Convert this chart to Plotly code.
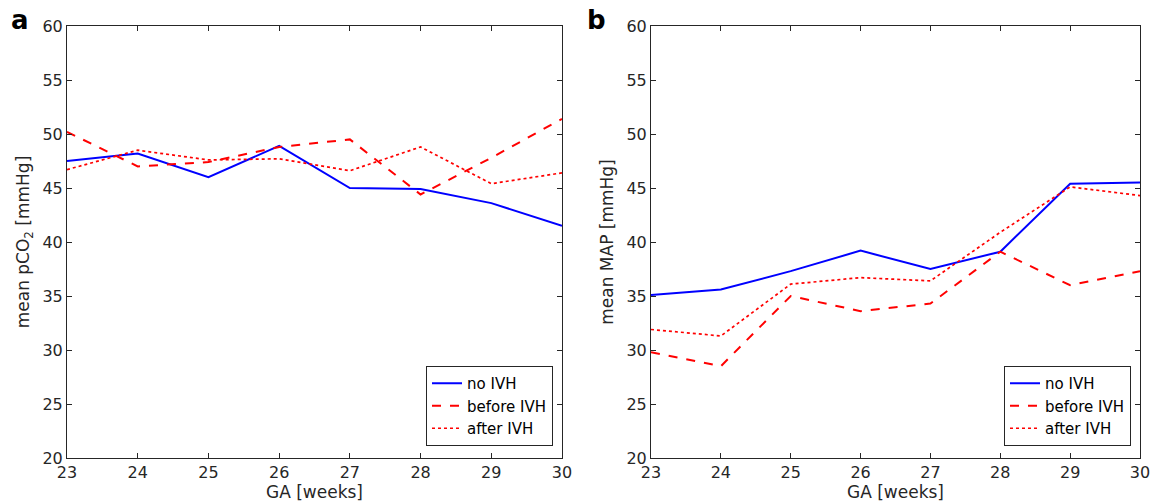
import plotly.graph_objects as go

# Gestational age (weeks)
ga_weeks = [23, 24, 25, 26, 27, 28, 29, 30]

# Panel a: mean pCO2 [mmHg]
pco2_no_ivh = [47.5, 48.2, 46.0, 48.9, 45.0, 44.9, 43.6, 41.5]
pco2_before_ivh = [50.2, 47.0, 47.4, 48.8, 49.5, 44.4, 47.8, 51.4]
pco2_after_ivh = [46.7, 48.5, 47.6, 47.7, 46.6, 48.8, 45.4, 46.4]

# Panel b: mean MAP [mmHg]
map_no_ivh = [35.1, 35.6, 37.3, 39.2, 37.5, 39.1, 45.4, 45.5]
map_before_ivh = [29.8, 28.5, 35.0, 33.6, 34.3, 39.1, 36.0, 37.3]
map_after_ivh = [31.9, 31.3, 36.1, 36.7, 36.4, 40.9, 45.1, 44.3]

series_names = ["no IVH", "before IVH", "after IVH"]
y_ticks = [20, 25, 30, 35, 40, 45, 50, 55, 60]
x_ticks = ga_weeks

FONT = "DejaVu Sans"
AX_COL = "#262626"
BLUE = "#0000ff"
RED = "#ff0000"

styles = [
    dict(color=BLUE, width=2, dash="solid"),
    dict(color=RED, width=2, dash="dash"),
    dict(color=RED, width=1.7, dash="dot"),
]

fig = go.Figure()

panels = [
    ("x", "y", "legend", [pco2_no_ivh, pco2_before_ivh, pco2_after_ivh]),
    ("x2", "y2", "legend2", [map_no_ivh, map_before_ivh, map_after_ivh]),
]
for xa, ya, lg, data in panels:
    for name, vals, st in zip(series_names, data, styles):
        fig.add_trace(go.Scatter(
            x=ga_weeks, y=vals, mode="lines", name=name,
            line=st, xaxis=xa, yaxis=ya, legend=lg,
        ))

W, H = 1151, 503
ytop, ybot = 26, 458
dom_y = [1 - ybot / H, 1 - ytop / H]

axis_common = dict(
    showgrid=False, zeroline=False, showline=True, linecolor=AX_COL,
    linewidth=1, mirror="ticks", ticks="inside", ticklen=5,
    tickcolor=AX_COL, tickfont=dict(family=FONT, size=16, color=AX_COL),
    automargin=False,
)

def xaxis(dom):
    return dict(axis_common, domain=dom, range=[23, 30], tickvals=x_ticks,
                title=dict(text="GA [weeks]", font=dict(family=FONT, size=17, color=AX_COL),
                           standoff=2))

def yaxis(anchor, title):
    return dict(axis_common, domain=dom_y, anchor=anchor, range=[20, 60],
                tickvals=y_ticks,
                title=dict(text=title, font=dict(family=FONT, size=17, color=AX_COL),
                           standoff=8))

legend_common = dict(
    bgcolor="white", bordercolor=AX_COL, borderwidth=1,
    font=dict(family=FONT, size=15, color="black"),
    xanchor="right", yanchor="bottom", tracegroupgap=0,
    itemwidth=30,
)

fig.update_layout(
    width=W, height=H,
    margin=dict(l=0, r=0, t=0, b=0),
    paper_bgcolor="white", plot_bgcolor="white",
    font=dict(family=FONT, color=AX_COL),
    xaxis=dict(xaxis([67 / W, 562 / W]), anchor="y"),
    yaxis=yaxis("x", "mean pCO<sub>2</sub> [mmHg]"),
    xaxis2=dict(xaxis([651 / W, 1140 / W]), anchor="y2"),
    yaxis2=yaxis("x2", "mean MAP [mmHg]"),
    legend=dict(legend_common, x=553 / W, y=1 - 446 / H),
    legend2=dict(legend_common, x=1131 / W, y=1 - 446 / H),
    annotations=[
        dict(text="<b>a</b>", x=9 / W, y=1 - 3 / H, xref="paper", yref="paper",
             xanchor="left", yanchor="top", showarrow=False,
             font=dict(family=FONT, size=26, color="black")),
        dict(text="<b>b</b>", x=585 / W, y=1 - 3 / H, xref="paper", yref="paper",
             xanchor="left", yanchor="top", showarrow=False,
             font=dict(family=FONT, size=26, color="black")),
    ],
)

fig.write_html("out.html")
